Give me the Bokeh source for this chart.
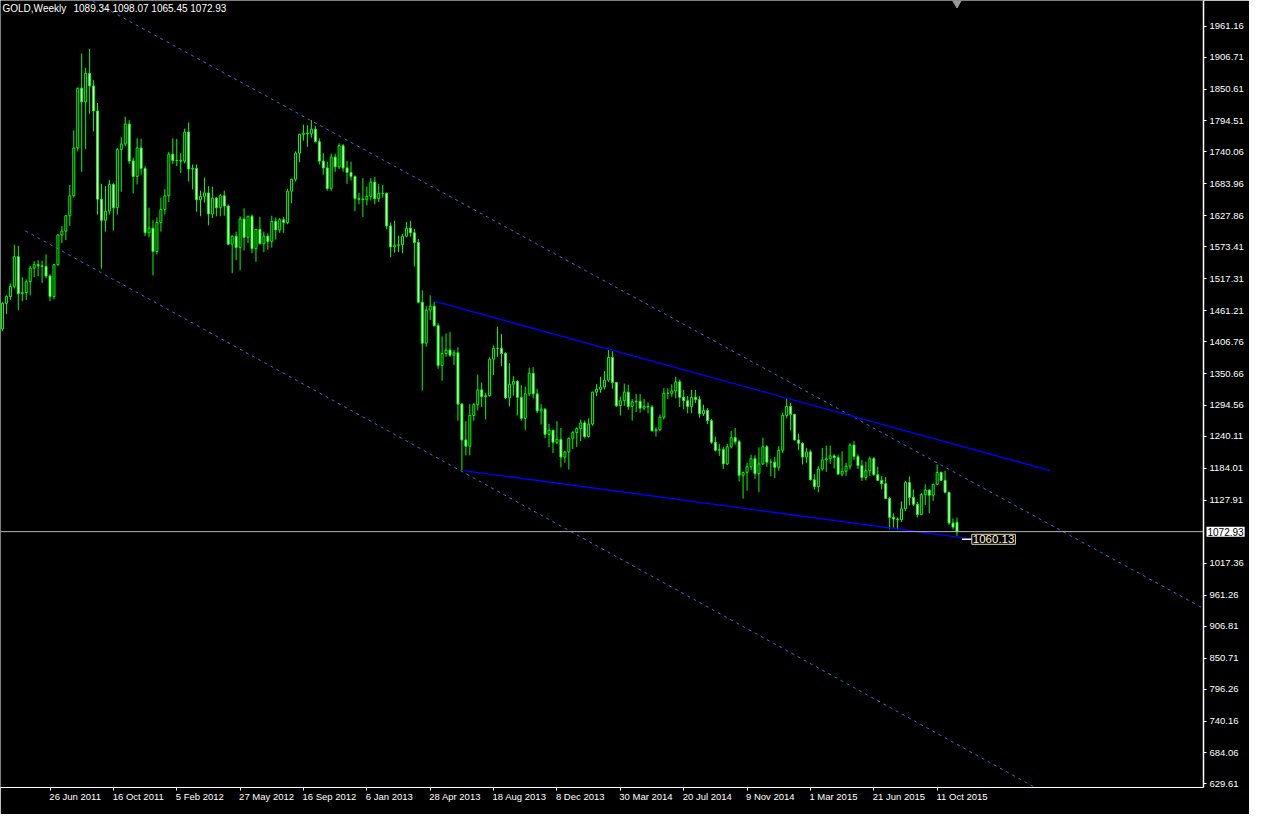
import pandas as pd
from bokeh.plotting import figure
from bokeh.models import (ColumnDataSource, Range1d, FixedTicker, PrintfTickFormatter,
                          Span, Label)
from bokeh.embed import file_html
from bokeh.resources import INLINE

# ---------------- data ----------------
symbol_title = "GOLD,Weekly"
last_ohlc_text = "1089.34 1098.07 1065.45 1072.93"
first_week = "2011-04-03"

opens = [1429, 1474, 1486, 1504, 1556, 1491, 1493, 1512, 1536, 1542, 1540, 1539, 1522, 1486, 1542, 1594, 1601, 1628, 1663, 1747,
         1852, 1828, 1878, 1856, 1812, 1657, 1620, 1636, 1683, 1642, 1744, 1754, 1789, 1724, 1697, 1747, 1711, 1598, 1606, 1565,
         1616, 1639, 1663, 1736, 1725, 1725, 1724, 1775, 1710, 1711, 1656, 1662, 1668, 1631, 1659, 1642, 1663, 1645, 1578, 1592,
         1572, 1622, 1590, 1627, 1570, 1604, 1579, 1592, 1583, 1618, 1603, 1621, 1616, 1671, 1692, 1738, 1771, 1773, 1772, 1780,
         1758, 1724, 1712, 1676, 1731, 1714, 1751, 1712, 1704, 1697, 1658, 1657, 1656, 1662, 1687, 1658, 1667, 1667, 1610, 1573,
         1576, 1577, 1592, 1606, 1598, 1581, 1476, 1404, 1462, 1469, 1435, 1365, 1386, 1392, 1383, 1387, 1297, 1234, 1223, 1277,
         1296, 1322, 1310, 1312, 1376, 1395, 1395, 1386, 1308, 1332, 1337, 1309, 1272, 1315, 1351, 1315, 1285, 1288, 1244, 1251,
         1230, 1235, 1204, 1213, 1237, 1247, 1254, 1264, 1240, 1262, 1318, 1323, 1327, 1339, 1379, 1335, 1294, 1303, 1318, 1293,
         1301, 1302, 1290, 1293, 1292, 1250, 1252, 1274, 1316, 1316, 1320, 1336, 1309, 1303, 1293, 1309, 1305, 1280, 1286, 1268,
         1230, 1216, 1217, 1192, 1222, 1238, 1231, 1172, 1177, 1187, 1201, 1175, 1192, 1222, 1195, 1195, 1186, 1216, 1277, 1293,
         1279, 1234, 1228, 1204, 1213, 1164, 1152, 1183, 1199, 1201, 1206, 1203, 1174, 1179, 1188, 1225, 1205, 1189, 1168, 1180,
         1201, 1173, 1163, 1157, 1131, 1098, 1095, 1094, 1113, 1159, 1133, 1121, 1103, 1138, 1146, 1137, 1156, 1177, 1163, 1142,
         1088, 1089.34]
highs = [1476, 1488, 1509, 1577, 1575, 1520, 1516, 1540, 1548, 1550, 1549, 1560, 1525, 1542, 1595, 1610, 1629, 1682, 1778, 1853,
         1913, 1888, 1921, 1866, 1826, 1684, 1680, 1691, 1685, 1747, 1766, 1802, 1796, 1730, 1764, 1763, 1715, 1642, 1620, 1625,
         1660, 1675, 1740, 1764, 1763, 1738, 1781, 1792, 1718, 1718, 1672, 1695, 1680, 1679, 1661, 1666, 1672, 1648, 1593, 1600,
         1627, 1641, 1628, 1630, 1605, 1626, 1600, 1597, 1628, 1625, 1624, 1626, 1675, 1693, 1741, 1772, 1788, 1787, 1796, 1786,
         1764, 1738, 1723, 1737, 1737, 1755, 1754, 1724, 1723, 1699, 1668, 1694, 1679, 1694, 1696, 1684, 1682, 1669, 1616, 1619,
         1593, 1596, 1617, 1619, 1605, 1587, 1497, 1469, 1488, 1477, 1439, 1416, 1421, 1424, 1392, 1397, 1299, 1267, 1297, 1299,
         1349, 1335, 1317, 1379, 1400, 1433, 1420, 1388, 1369, 1346, 1339, 1330, 1328, 1361, 1362, 1324, 1297, 1290, 1262, 1252,
         1267, 1255, 1215, 1238, 1250, 1256, 1270, 1268, 1272, 1319, 1332, 1345, 1355, 1392, 1390, 1336, 1310, 1333, 1331, 1306,
         1315, 1315, 1306, 1300, 1295, 1256, 1279, 1325, 1325, 1332, 1345, 1340, 1322, 1311, 1322, 1322, 1311, 1296, 1290, 1271,
         1240, 1227, 1222, 1227, 1250, 1255, 1234, 1178, 1194, 1208, 1207, 1221, 1238, 1225, 1201, 1204, 1223, 1282, 1307, 1299,
         1280, 1245, 1230, 1220, 1217, 1174, 1188, 1220, 1224, 1224, 1209, 1208, 1214, 1194, 1228, 1232, 1209, 1199, 1196, 1205,
         1204, 1187, 1171, 1169, 1134, 1105, 1098, 1126, 1162, 1170, 1147, 1125, 1141, 1156, 1147, 1157, 1191, 1178, 1180, 1143,
         1096, 1098.07]
lows = [1425, 1455, 1480, 1500, 1462, 1478, 1480, 1488, 1520, 1522, 1510, 1518, 1478, 1481, 1540, 1580, 1585, 1610, 1660, 1741,
        1705, 1745, 1807, 1776, 1630, 1535, 1600, 1630, 1602, 1630, 1670, 1750, 1719, 1667, 1683, 1700, 1592, 1590, 1523, 1560,
        1600, 1630, 1652, 1719, 1715, 1703, 1720, 1688, 1674, 1635, 1627, 1651, 1611, 1624, 1627, 1627, 1628, 1576, 1527, 1550,
        1532, 1567, 1580, 1562, 1547, 1577, 1564, 1568, 1572, 1586, 1598, 1598, 1613, 1650, 1688, 1722, 1760, 1749, 1765, 1757,
        1718, 1700, 1672, 1672, 1705, 1710, 1705, 1684, 1690, 1636, 1648, 1626, 1646, 1655, 1648, 1652, 1660, 1604, 1555, 1563,
        1564, 1562, 1590, 1591, 1539, 1474, 1321, 1398, 1445, 1433, 1359, 1338, 1380, 1380, 1366, 1268, 1180, 1207, 1207, 1268,
        1286, 1292, 1270, 1310, 1348, 1380, 1364, 1306, 1293, 1312, 1277, 1268, 1251, 1311, 1307, 1281, 1261, 1237, 1221, 1211,
        1227, 1186, 1194, 1182, 1218, 1222, 1232, 1237, 1238, 1259, 1311, 1317, 1323, 1336, 1324, 1292, 1277, 1294, 1287, 1268,
        1283, 1282, 1286, 1281, 1249, 1240, 1250, 1270, 1306, 1310, 1307, 1292, 1288, 1281, 1281, 1299, 1273, 1276, 1262, 1227,
        1214, 1206, 1183, 1190, 1219, 1226, 1161, 1131, 1145, 1181, 1166, 1142, 1190, 1187, 1170, 1167, 1180, 1211, 1272, 1251,
        1233, 1216, 1191, 1194, 1163, 1147, 1142, 1180, 1178, 1192, 1184, 1173, 1170, 1171, 1182, 1199, 1183, 1162, 1163, 1171,
        1171, 1162, 1147, 1130, 1077, 1080, 1077, 1090, 1109, 1119, 1118, 1098, 1102, 1120, 1105, 1127, 1155, 1162, 1140, 1085,
        1077, 1065.45]
closes = [1474, 1486, 1504, 1556, 1491, 1493, 1512, 1536, 1542, 1540, 1539, 1522, 1486, 1542, 1594, 1601, 1628, 1663, 1747, 1852,
          1828, 1878, 1856, 1812, 1657, 1620, 1636, 1683, 1642, 1744, 1754, 1789, 1724, 1697, 1747, 1711, 1598, 1606, 1565, 1616,
          1639, 1663, 1736, 1725, 1725, 1724, 1775, 1710, 1711, 1656, 1662, 1668, 1631, 1659, 1642, 1663, 1645, 1578, 1592, 1572,
          1622, 1590, 1627, 1570, 1604, 1579, 1592, 1583, 1618, 1603, 1621, 1616, 1671, 1692, 1738, 1771, 1773, 1772, 1780, 1758,
          1724, 1712, 1676, 1731, 1714, 1751, 1712, 1704, 1697, 1658, 1657, 1656, 1662, 1687, 1658, 1667, 1667, 1610, 1573, 1576,
          1577, 1592, 1606, 1598, 1581, 1476, 1404, 1462, 1469, 1435, 1365, 1386, 1392, 1383, 1387, 1297, 1234, 1223, 1277, 1296,
          1322, 1310, 1312, 1376, 1395, 1395, 1386, 1308, 1332, 1337, 1309, 1272, 1315, 1351, 1315, 1285, 1288, 1244, 1251, 1230,
          1235, 1204, 1213, 1237, 1247, 1254, 1264, 1240, 1262, 1318, 1323, 1327, 1339, 1379, 1335, 1294, 1303, 1318, 1293, 1301,
          1302, 1290, 1293, 1292, 1250, 1252, 1274, 1316, 1316, 1320, 1336, 1309, 1303, 1293, 1309, 1305, 1280, 1286, 1268, 1230,
          1216, 1217, 1192, 1222, 1238, 1231, 1172, 1177, 1187, 1201, 1175, 1192, 1222, 1195, 1195, 1186, 1216, 1277, 1293, 1279,
          1234, 1228, 1204, 1213, 1164, 1152, 1183, 1199, 1201, 1206, 1203, 1174, 1179, 1188, 1225, 1205, 1189, 1168, 1180, 1201,
          1173, 1163, 1157, 1131, 1098, 1095, 1094, 1113, 1159, 1133, 1121, 1103, 1138, 1146, 1137, 1156, 1177, 1163, 1142, 1088,
          1081, 1072.93]

y_ticks = [1961.16, 1906.71, 1850.61, 1794.51, 1740.06, 1683.96, 1627.86, 1573.41, 1517.31,
           1461.21, 1406.76, 1350.66, 1294.56, 1240.11, 1184.01, 1127.91, 1017.36, 961.26,
           906.81, 850.71, 796.26, 740.16, 684.06, 629.61]
x_tick_labels = ["26 Jun 2011", "16 Oct 2011", "5 Feb 2012", "27 May 2012", "16 Sep 2012",
                 "6 Jan 2013", "28 Apr 2013", "18 Aug 2013", "8 Dec 2013", "30 Mar 2014",
                 "20 Jul 2014", "9 Nov 2014", "1 Mar 2015", "21 Jun 2015", "11 Oct 2015"]

bid_price = 1072.93
bid_text = "1072.93"
trend_value_text = "1060.13"

# trend lines (bar index, price)
channel_upper_x = [5.75, 303.25]
channel_upper_y = [2069.7, 937.96]
channel_lower_x = [5.75, 303.25]
channel_lower_y = [1601.5, 460.4]
wedge_upper_x = [109.0, 264.5]
wedge_upper_y = [1477.9, 1180.2]
wedge_lower_x = [116.5, 244.5]
wedge_lower_y = [1180.2, 1060.13]
tag_pointer_x = [242.25, 244.75]
tag_pointer_y = [1059.5, 1059.5]

# ---------------- layout ----------------
W, H = 1249, 814
RIGHT, BOTTOM = 46, 13
FRAME_W = W - RIGHT
x_start, x_end = -0.5, 303.25
y_start, y_end = 623.4, 2006.1
px_per_bar = FRAME_W / (x_end - x_start)

GREEN = "#00FF00"
FONT = "Liberation Sans"

idx = list(range(len(closes)))
dates = pd.date_range(first_week, periods=len(closes), freq="7D")
date_labels = [f"{d.day} {d.strftime('%b %Y')}" for d in dates]

src = ColumnDataSource(dict(
    x=idx, o=opens, h=highs, l=lows, c=closes,
    top=[max(a, b) for a, b in zip(opens, closes)],
    bot=[min(a, b) for a, b in zip(opens, closes)],
    fill=["white" if c < o else "black" for o, c in zip(opens, closes)],
))

p = figure(width=W, height=H, x_range=Range1d(x_start, x_end), y_range=Range1d(y_start, y_end),
           output_backend="svg", toolbar_location=None, y_axis_location="right",
           background_fill_color="black", border_fill_color="black",
           min_border_left=0, min_border_top=0, min_border_right=RIGHT, min_border_bottom=BOTTOM)
p.outline_line_color = None
p.xgrid.visible = False
p.ygrid.visible = False

# candles
p.segment(x0="x", y0="l", x1="x", y1="h", source=src, line_color=GREEN, line_width=1)
p.vbar(x="x", width=0.5, top="top", bottom="bot", source=src,
       fill_color="fill", line_color=GREEN, line_width=1)

# bid line
p.add_layout(Span(location=bid_price, dimension="width", line_color="#B4B4B4", line_width=1))

# trend lines
p.line(channel_upper_x, channel_upper_y, line_color="#4169E1", line_width=1, line_dash="3 4")
p.line(channel_lower_x, channel_lower_y, line_color="#4169E1", line_width=1, line_dash="3 4")
p.line(wedge_upper_x, wedge_upper_y, line_color="#0000FF", line_width=1.3)
p.line(wedge_lower_x, wedge_lower_y, line_color="#0000FF", line_width=1.3)
p.line(tag_pointer_x, tag_pointer_y, line_color="white", line_width=1.5)

# chart shift marker
p.scatter([idx[-1]], [y_end], marker="inverted_triangle", size=13, color="#9A9A9A")

# trend value label
p.add_layout(Label(x=tag_pointer_x[-1], y=tag_pointer_y[-1], text=trend_value_text,
                   text_align="left", text_baseline="middle", text_color="#FFF4DE",
                   text_font=FONT, text_font_size="11.5px",
                   background_fill_color="black", border_line_color="#E9D6AE",
                   border_line_width=1, padding=1))

# title
p.add_layout(Label(x=x_start, y=y_end, x_offset=2, y_offset=-2, text=symbol_title,
                   text_align="left", text_baseline="top", text_color="white",
                   text_font=FONT, text_font_size="10px"))
p.add_layout(Label(x=x_start, y=y_end, x_offset=73, y_offset=-2, text=last_ohlc_text,
                   text_align="left", text_baseline="top", text_color="white",
                   text_font=FONT, text_font_size="10px"))

# y axis (right)
ya = p.yaxis[0]
ya.ticker = FixedTicker(ticks=y_ticks)
ya.formatter = PrintfTickFormatter(format="%.2f")
ya.axis_line_color = "white"
ya.axis_line_width = 1.5
ya.major_tick_line_color = "white"
ya.major_tick_in = 0
ya.major_tick_out = 3
ya.minor_tick_line_color = None
ya.major_label_text_color = "white"
ya.major_label_text_font = FONT
ya.major_label_text_font_size = "9.5px"
ya.major_label_standoff = 3

# x axis (bottom): ticks at dates, labels to the right of the ticks
CW = {' ': 0.278, 'J': 0.5, 'u': 0.556, 'n': 0.556, 'O': 0.778, 'c': 0.5, 't': 0.278, 'F': 0.611,
      'e': 0.556, 'b': 0.556, 'M': 0.833, 'a': 0.556, 'y': 0.5, 'S': 0.667, 'p': 0.556, 'A': 0.667,
      'r': 0.333, 'D': 0.722, 'N': 0.722, 'o': 0.556, 'v': 0.5, 'l': 0.222, 'g': 0.556}
def text_w(s, fs):
    return sum(CW.get(ch, 0.556) for ch in s) * fs

tick_pos = [date_labels.index(lbl) for lbl in x_tick_labels]
centers = [round(t + (text_w(lbl, 9.5) / 2 - 1) / px_per_bar, 3) for t, lbl in zip(tick_pos, x_tick_labels)]
xa = p.xaxis[0]
xa.ticker = FixedTicker(ticks=centers, minor_ticks=tick_pos)
xa.major_label_overrides = {c: lbl for c, lbl in zip(centers, x_tick_labels)}
xa.axis_line_color = "white"
xa.major_tick_line_color = None
xa.major_tick_in = 0
xa.major_tick_out = 0
xa.minor_tick_line_color = "white"
xa.minor_tick_in = 0
xa.minor_tick_out = 3
xa.major_label_text_color = "white"
xa.major_label_text_font = FONT
xa.major_label_text_font_size = "9.5px"
xa.major_label_standoff = 0

# bid price tag on the price axis: held in the bottom side panel (so it is not clipped
# to the frame) and positioned with the frame's own scales at the bid price
p.add_layout(Label(x=x_end, x_offset=3, y=bid_price, text=bid_text,
                   text_align="left", text_baseline="middle", text_color="black",
                   text_font=FONT, text_font_size="10px",
                   background_fill_color="white", padding=1), "below")

open("out.html", "w").write(file_html(p, INLINE))
